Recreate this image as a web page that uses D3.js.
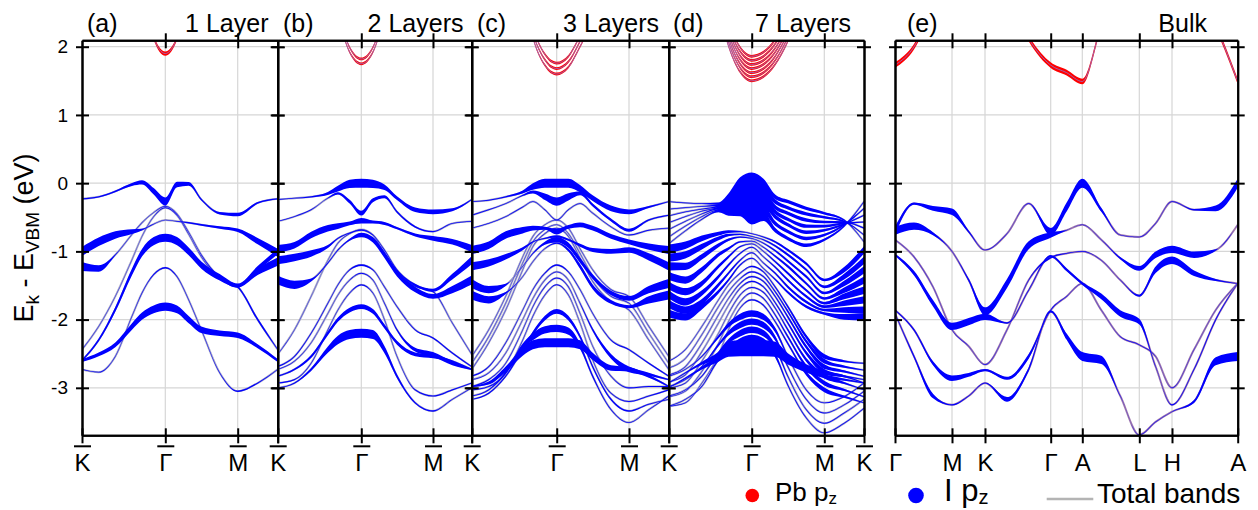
<!DOCTYPE html>
<html>
<head>
<meta charset="utf-8">
<script src="https://cdn.jsdelivr.net/npm/d3@7"></script>
<style>
  body { margin: 0; background: #fff; }
  text { font-family: "Liberation Sans", Arial, Helvetica, sans-serif; fill: #000; }
</style>
</head>
<body>
<svg id="chart" width="1258" height="510"></svg>
<script>
// k-path sample points (path length units) and high-symmetry points
var kSlab = [0, 0.267, 0.533, 0.8, 0.96, 1.147, 1.333, 1.52, 1.706, 1.908, 2.201, 2.488, 2.821, 3.155];
var slabNodes = [0, 1.333, 2.488, 3.155];
var slabLabels = ["K", "Γ", "M", "K"];
var kBulk = [0, 0.385, 0.770, 1.155, 1.491, 1.821, 2.268, 2.708, 3.155, 3.478, 3.795, 4.180, 4.565, 4.950, 5.283, 5.617, 6.064, 6.504, 6.950];
var bulkNodes = [0, 1.155, 1.821, 3.155, 3.795, 4.950, 5.617, 6.950];
var bulkLabels = ["Γ", "M", "K", "Γ", "A", "L", "H", "A"];
var energyTicks = [-3, -2, -1, 0, 1, 2];
var panelTags = ["(a)", "(b)", "(c)", "(d)", "(e)"];
var panelTitles = ["1 Layer", "2 Layers", "3 Layers", "7 Layers", "Bulk"];
var pbWeights = [0.45, 0.27, 0.27, 0.27, 0.6];

// (a) 1 layer: valence bands (eV) and I pz weights
var layer1Bands = [
  [-0.23, -0.20, -0.12, -0.02, 0.01, -0.12, -0.27, -0.02, -0.01, -0.24, -0.44, -0.46, -0.29, -0.23],
  [-1.0, -0.86, -0.76, -0.71, -0.68, -0.6, -0.54, -0.56, -0.58, -0.61, -0.65, -0.69, -0.85, -1.02],
  [-1.22, -1.25, -1.05, -0.75, -0.58, -0.43, -0.34, -0.45, -0.72, -1.05, -1.38, -1.51, -1.3, -1.15],
  [-2.6, -2.3, -1.85, -1.3, -1.02, -0.85, -0.8, -0.85, -1.0, -1.2, -1.38, -1.5, -1.25, -1.0],
  [-2.44, -2.1, -1.66, -1.12, -0.78, -0.49, -0.36, -0.47, -0.75, -1.08, -1.4, -1.52, -2.0, -2.44],
  [-2.73, -2.77, -2.54, -1.95, -1.61, -1.34, -1.24, -1.37, -1.71, -2.15, -2.78, -3.05, -2.93, -2.73],
  [-2.6, -2.51, -2.37, -2.1, -1.95, -1.85, -1.81, -1.85, -2.0, -2.15, -2.2, -2.23, -2.39, -2.6]
];
var layer1Weights = [
  [0.1, 0.1, 0.15, 0.3, 0.45, 0.7, 0.9, 0.6, 0.4, 0.2, 0.25, 0.35, 0.15, 0.1],
  [1.0, 0.95, 0.8, 0.5, 0.15, 0.05, 0.03, 0.05, 0.1, 0.15, 0.25, 0.35, 0.7, 0.9],
  [1.0, 0.7, 0.1, 0.03, 0.03, 0.03, 0.05, 0.05, 0.08, 0.1, 0.15, 0.3, 0.7, 0.9],
  [0.2, 0.3, 0.5, 0.75, 0.85, 0.9, 0.9, 0.9, 0.85, 0.8, 0.7, 0.4, 0.5, 0.6],
  [0.03, 0.03, 0.03, 0.03, 0.03, 0.03, 0.05, 0.05, 0.05, 0.05, 0.1, 0.2, 0.3, 0.1],
  [0.05, 0.05, 0.05, 0.08, 0.1, 0.12, 0.15, 0.12, 0.1, 0.1, 0.1, 0.1, 0.1, 0.05],
  [0.3, 0.4, 0.5, 0.7, 0.8, 0.85, 0.9, 0.85, 0.8, 0.7, 0.6, 0.6, 0.4, 0.3]
];
var layer1Pb = [
  [null, null, null, null, 2.8, 2.13, 1.9, 2.13, 2.8, null, null, null, null, null]
];

// (b) 2 layers
var layer2Bands = [
  [-0.24, -0.22, -0.2, -0.15, -0.08, -0.01, 0.0, -0.01, -0.06, -0.22, -0.39, -0.42, -0.39, -0.24],
  [-0.56, -0.49, -0.39, -0.22, -0.15, -0.27, -0.44, -0.25, -0.2, -0.42, -0.64, -0.71, -0.59, -0.56],
  [-0.96, -0.91, -0.76, -0.66, -0.63, -0.59, -0.55, -0.57, -0.59, -0.66, -0.76, -0.81, -0.86, -0.96],
  [-1.13, -1.09, -1.03, -0.93, -0.81, -0.73, -0.69, -0.76, -0.98, -1.27, -1.49, -1.57, -1.37, -1.13],
  [-1.42, -1.49, -1.42, -1.17, -0.98, -0.83, -0.76, -0.83, -1.05, -1.32, -1.56, -1.66, -1.56, -1.42],
  [-2.51, -2.15, -1.66, -1.13, -0.88, -0.74, -0.68, -0.76, -1.03, -1.3, -1.51, -1.59, -2.05, -2.51],
  [-2.69, -2.54, -2.2, -1.76, -1.49, -1.27, -1.2, -1.27, -1.52, -1.81, -2.15, -2.27, -2.49, -2.69],
  [-2.73, -2.61, -2.34, -1.91, -1.64, -1.42, -1.32, -1.42, -1.76, -2.15, -2.44, -2.51, -2.64, -2.73],
  [-2.93, -2.88, -2.64, -2.15, -1.86, -1.61, -1.49, -1.61, -2.0, -2.54, -3.03, -3.12, -3.03, -2.93],
  [-2.83, -2.73, -2.54, -2.2, -2.0, -1.86, -1.81, -1.88, -2.1, -2.34, -2.51, -2.54, -2.61, -2.73],
  [-3.0, -2.93, -2.73, -2.44, -2.3, -2.22, -2.2, -2.22, -2.44, -2.83, -3.22, -3.34, -3.17, -3.0]
];
var layer2Weights = [
  [0.05, 0.05, 0.1, 0.3, 0.6, 0.9, 1.0, 0.9, 0.6, 0.4, 0.5, 0.5, 0.3, 0.05],
  [0.05, 0.05, 0.05, 0.05, 0.2, 0.4, 0.5, 0.4, 0.3, 0.2, 0.15, 0.1, 0.05, 0.05],
  [0.8, 0.7, 0.7, 0.7, 0.6, 0.4, 0.6, 0.3, 0.3, 0.2, 0.3, 0.5, 0.6, 0.8],
  [0.9, 0.8, 0.7, 0.3, 0.1, 0.05, 0.05, 0.05, 0.1, 0.15, 0.2, 0.3, 0.6, 0.9],
  [1.0, 0.9, 0.3, 0.1, 0.1, 0.2, 0.5, 0.6, 0.7, 0.7, 0.6, 0.5, 0.8, 1.0],
  [0.03, 0.03, 0.03, 0.03, 0.03, 0.03, 0.03, 0.03, 0.05, 0.05, 0.08, 0.1, 0.05, 0.03],
  [0.1, 0.1, 0.1, 0.1, 0.1, 0.1, 0.15, 0.1, 0.1, 0.1, 0.1, 0.1, 0.1, 0.1],
  [0.03, 0.03, 0.03, 0.03, 0.03, 0.03, 0.05, 0.05, 0.1, 0.2, 0.4, 0.5, 0.4, 0.1],
  [0.08, 0.08, 0.08, 0.08, 0.08, 0.08, 0.1, 0.08, 0.08, 0.08, 0.08, 0.08, 0.08, 0.08],
  [0.1, 0.15, 0.3, 0.4, 0.45, 0.5, 0.5, 0.5, 0.45, 0.4, 0.4, 0.4, 0.2, 0.1],
  [0.05, 0.1, 0.3, 0.7, 0.95, 1.0, 1.0, 1.0, 0.8, 0.4, 0.15, 0.1, 0.05, 0.05]
];
var layer2Pb = [
  [null, null, null, null, 2.45, 1.92, 1.75, 1.92, 2.45, null, null, null, null, null],
  [null, null, null, null, 2.52, 1.99, 1.82, 1.99, 2.52, null, null, null, null, null]
];

// (c) 3 layers
var layer3Bands = [
  [-0.27, -0.25, -0.2, -0.13, -0.05, 0.0, 0.0, 0.0, -0.08, -0.22, -0.37, -0.42, -0.35, -0.27],
  [-0.47, -0.39, -0.3, -0.18, -0.13, -0.2, -0.27, -0.2, -0.15, -0.32, -0.54, -0.69, -0.54, -0.47],
  [-0.66, -0.59, -0.49, -0.35, -0.27, -0.39, -0.54, -0.39, -0.3, -0.44, -0.64, -0.76, -0.69, -0.66],
  [-0.98, -0.91, -0.76, -0.69, -0.66, -0.66, -0.71, -0.64, -0.61, -0.66, -0.78, -0.86, -0.93, -0.98],
  [-1.22, -1.17, -1.08, -0.96, -0.86, -0.81, -0.78, -0.83, -0.91, -0.98, -1.0, -0.98, -1.08, -1.22],
  [-1.47, -1.56, -1.49, -1.22, -1.03, -0.88, -0.83, -0.91, -1.13, -1.37, -1.61, -1.69, -1.56, -1.47],
  [-1.64, -1.71, -1.61, -1.37, -1.15, -0.96, -0.88, -0.98, -1.22, -1.52, -1.74, -1.81, -1.71, -1.64],
  [-2.54, -2.15, -1.66, -1.08, -0.78, -0.61, -0.54, -0.66, -0.96, -1.27, -1.56, -1.66, -2.1, -2.54],
  [-2.64, -2.25, -1.76, -1.17, -0.86, -0.68, -0.61, -0.74, -1.03, -1.37, -1.66, -1.76, -2.2, -2.64],
  [-2.73, -2.34, -1.86, -1.27, -0.93, -0.74, -0.66, -0.78, -1.1, -1.44, -1.74, -1.86, -2.3, -2.73],
  [-2.83, -2.69, -2.34, -1.86, -1.56, -1.32, -1.2, -1.3, -1.56, -1.91, -2.3, -2.44, -2.64, -2.83],
  [-2.88, -2.78, -2.49, -2.0, -1.69, -1.42, -1.3, -1.42, -1.76, -2.15, -2.54, -2.73, -2.8, -2.88],
  [-2.98, -2.88, -2.64, -2.15, -1.81, -1.52, -1.39, -1.52, -1.91, -2.39, -2.83, -3.0, -2.98, -2.98],
  [-3.03, -2.98, -2.78, -2.3, -1.95, -1.64, -1.49, -1.64, -2.05, -2.59, -3.08, -3.2, -3.12, -3.03],
  [-3.17, -3.08, -2.83, -2.44, -2.2, -1.98, -1.88, -1.98, -2.25, -2.69, -3.17, -3.34, -3.24, -3.17],
  [-3.12, -3.03, -2.78, -2.39, -2.25, -2.15, -2.13, -2.17, -2.39, -2.83, -3.32, -3.51, -3.32, -3.12],
  [-2.98, -2.93, -2.73, -2.47, -2.37, -2.34, -2.34, -2.34, -2.37, -2.54, -2.71, -2.73, -2.83, -2.98]
];
var layer3Weights = [
  [0.05, 0.05, 0.1, 0.3, 0.7, 1.0, 1.0, 1.0, 0.8, 0.6, 0.6, 0.5, 0.2, 0.05],
  [0.05, 0.05, 0.05, 0.1, 0.3, 0.7, 0.9, 0.8, 0.4, 0.3, 0.3, 0.3, 0.1, 0.05],
  [0.05, 0.05, 0.05, 0.05, 0.05, 0.05, 0.05, 0.05, 0.05, 0.05, 0.05, 0.05, 0.05, 0.05],
  [0.9, 0.8, 0.8, 0.7, 0.5, 0.3, 0.6, 0.4, 0.5, 0.5, 0.5, 0.5, 0.7, 0.9],
  [0.9, 0.8, 0.6, 0.3, 0.1, 0.1, 0.2, 0.2, 0.3, 0.4, 0.5, 0.6, 0.8, 0.9],
  [1.0, 0.8, 0.2, 0.05, 0.1, 0.3, 0.6, 0.6, 0.6, 0.5, 0.5, 0.5, 0.8, 1.0],
  [1.0, 0.8, 0.2, 0.05, 0.05, 0.05, 0.1, 0.3, 0.5, 0.5, 0.4, 0.3, 0.8, 1.0],
  [0.03, 0.03, 0.03, 0.03, 0.03, 0.03, 0.03, 0.03, 0.03, 0.03, 0.03, 0.03, 0.03, 0.03],
  [0.03, 0.03, 0.03, 0.03, 0.03, 0.03, 0.03, 0.03, 0.03, 0.03, 0.03, 0.03, 0.03, 0.03],
  [0.03, 0.03, 0.03, 0.03, 0.03, 0.03, 0.03, 0.03, 0.03, 0.03, 0.03, 0.03, 0.03, 0.03],
  [0.1, 0.1, 0.1, 0.1, 0.1, 0.1, 0.1, 0.1, 0.1, 0.1, 0.1, 0.1, 0.1, 0.1],
  [0.03, 0.03, 0.03, 0.03, 0.03, 0.03, 0.03, 0.03, 0.1, 0.3, 0.5, 0.6, 0.3, 0.1],
  [0.08, 0.08, 0.08, 0.08, 0.08, 0.08, 0.08, 0.08, 0.08, 0.08, 0.08, 0.08, 0.08, 0.08],
  [0.08, 0.08, 0.08, 0.08, 0.08, 0.08, 0.08, 0.08, 0.08, 0.08, 0.08, 0.08, 0.08, 0.08],
  [0.05, 0.1, 0.2, 0.3, 0.4, 0.5, 0.5, 0.5, 0.4, 0.3, 0.2, 0.1, 0.05, 0.05],
  [0.05, 0.1, 0.3, 0.6, 0.8, 0.8, 0.8, 0.8, 0.6, 0.3, 0.1, 0.05, 0.05, 0.05],
  [0.1, 0.3, 0.6, 0.9, 1.0, 1.0, 1.0, 1.0, 1.0, 0.8, 0.6, 0.5, 0.3, 0.1]
];
var layer3Pb = [
  [null, null, null, 2.8, 2.13, 1.73, 1.6, 1.7, 2.0, 2.4, null, null, null, null],
  [null, null, null, 2.85, 2.2, 1.81, 1.68, 1.78, 2.08, 2.48, null, null, null, null],
  [null, null, null, 2.9, 2.28, 1.89, 1.76, 1.86, 2.16, 2.56, null, null, null, null]
];

// (d) 7 layers: bands in groups, one weight profile per group
var layer7Top = [
  [-0.27, -0.29, -0.3, -0.3, -0.2, 0.02, 0.09, 0.0, -0.2, -0.27, -0.37, -0.44, -0.54, -0.86],
  [-0.38, -0.36, -0.34, -0.32, -0.24, -0.05, 0.0, -0.08, -0.27, -0.36, -0.45, -0.5, -0.56, -0.76],
  [-0.48, -0.42, -0.38, -0.34, -0.28, -0.13, -0.1, -0.15, -0.35, -0.44, -0.54, -0.57, -0.57, -0.66],
  [-0.58, -0.49, -0.41, -0.36, -0.32, -0.2, -0.2, -0.22, -0.42, -0.53, -0.63, -0.63, -0.59, -0.57],
  [-0.68, -0.56, -0.45, -0.37, -0.36, -0.27, -0.3, -0.3, -0.49, -0.61, -0.72, -0.69, -0.6, -0.47],
  [-0.79, -0.63, -0.49, -0.39, -0.39, -0.35, -0.42, -0.39, -0.59, -0.71, -0.81, -0.76, -0.61, -0.37],
  [-0.89, -0.7, -0.53, -0.41, -0.43, -0.42, -0.54, -0.49, -0.69, -0.81, -0.91, -0.83, -0.63, -0.27]
];
var layer7TopW = [0.03, 0.03, 0.05, 0.2, 0.7, 1.0, 1.0, 1.0, 0.5, 0.35, 0.35, 0.25, 0.15, 0.08];
var layer7Mid = [
  [-0.96, -0.91, -0.81, -0.74, -0.71, -0.71, -0.74, -0.79, -0.86, -0.98, -1.18, -1.42, -1.27, -0.98],
  [-1.09, -1.05, -0.93, -0.81, -0.76, -0.75, -0.78, -0.83, -0.92, -1.05, -1.27, -1.52, -1.37, -1.13],
  [-1.22, -1.22, -1.08, -0.91, -0.83, -0.79, -0.81, -0.88, -0.99, -1.14, -1.37, -1.61, -1.47, -1.27],
  [-1.36, -1.42, -1.27, -1.05, -0.96, -0.86, -0.85, -0.94, -1.07, -1.22, -1.47, -1.69, -1.57, -1.42],
  [-1.5, -1.59, -1.47, -1.22, -1.08, -0.93, -0.89, -1.0, -1.15, -1.32, -1.57, -1.76, -1.66, -1.57],
  [-1.63, -1.74, -1.61, -1.37, -1.2, -1.03, -0.94, -1.08, -1.23, -1.42, -1.66, -1.81, -1.76, -1.71],
  [-1.77, -1.86, -1.74, -1.49, -1.32, -1.13, -1.02, -1.17, -1.32, -1.52, -1.74, -1.86, -1.86, -1.86],
  [-1.91, -1.96, -1.81, -1.59, -1.42, -1.2, -1.1, -1.25, -1.41, -1.6, -1.81, -1.91, -1.96, -1.96]
];
var layer7MidW = [0.9, 0.8, 0.6, 0.4, 0.25, 0.1, 0.05, 0.05, 0.15, 0.25, 0.25, 0.25, 0.6, 0.8];
var layer7Low = [
  [-2.61, -2.44, -2.1, -1.71, -1.49, -1.32, -1.22, -1.3, -1.52, -1.81, -2.25, -2.54, -2.61, -2.64],
  [-2.71, -2.57, -2.22, -1.81, -1.59, -1.4, -1.3, -1.37, -1.59, -1.88, -2.32, -2.61, -2.69, -2.74],
  [-2.81, -2.69, -2.35, -1.93, -1.69, -1.47, -1.37, -1.44, -1.66, -1.96, -2.4, -2.69, -2.76, -2.83],
  [-2.91, -2.81, -2.47, -2.05, -1.79, -1.54, -1.44, -1.52, -1.75, -2.05, -2.49, -2.76, -2.83, -2.93],
  [-3.0, -2.93, -2.61, -2.2, -1.91, -1.64, -1.53, -1.6, -1.83, -2.15, -2.59, -2.83, -2.93, -3.03],
  [-3.13, -3.05, -2.76, -2.35, -2.03, -1.74, -1.61, -1.69, -1.93, -2.25, -2.69, -2.93, -3.03, -3.13],
  [-3.27, -3.22, -2.93, -2.52, -2.15, -1.83, -1.71, -1.79, -2.03, -2.35, -2.79, -3.03, -3.13, -3.22]
];
var layer7LowW = [0.03, 0.03, 0.03, 0.03, 0.03, 0.05, 0.08, 0.1, 0.15, 0.25, 0.4, 0.5, 0.2, 0.05];
var layer7Peak = [
  [-2.83, -2.73, -2.54, -2.25, -2.08, -1.96, -1.91, -1.96, -2.15, -2.54, -3.03, -3.22, -3.13, -2.93],
  [-2.98, -2.88, -2.69, -2.37, -2.2, -2.08, -2.03, -2.08, -2.27, -2.69, -3.17, -3.37, -3.25, -3.05],
  [-3.12, -3.03, -2.83, -2.49, -2.32, -2.2, -2.15, -2.2, -2.4, -2.83, -3.32, -3.52, -3.37, -3.17],
  [-3.27, -3.17, -2.98, -2.59, -2.44, -2.32, -2.27, -2.32, -2.52, -2.96, -3.44, -3.66, -3.52, -3.3]
];
var layer7PeakW = [0.05, 0.05, 0.1, 0.3, 0.5, 0.7, 0.7, 0.7, 0.5, 0.2, 0.1, 0.05, 0.05, 0.05];
var layer7Flat = [
  [-2.93, -2.78, -2.64, -2.52, -2.39, -2.37, -2.37, -2.37, -2.39, -2.54, -2.69, -2.78, -2.83, -2.88],
  [-3.0, -2.86, -2.71, -2.57, -2.48, -2.47, -2.47, -2.47, -2.48, -2.61, -2.74, -2.83, -2.88, -2.93]
];
var layer7FlatW = [0.05, 0.1, 0.3, 0.7, 1.0, 1.0, 1.0, 1.0, 1.0, 0.7, 0.5, 0.4, 0.2, 0.05];
var layer7Pb = [
  [null, null, null, 2.55, 2.01, 1.63, 1.5, 1.56, 1.74, 2.08, 2.82, null, null, null],
  [null, null, null, 2.61, 2.07, 1.69, 1.56, 1.62, 1.8, 2.14, 2.88, null, null, null],
  [null, null, null, 2.67, 2.13, 1.75, 1.62, 1.68, 1.86, 2.2, 2.94, null, null, null],
  [null, null, null, 2.73, 2.19, 1.81, 1.68, 1.74, 1.92, 2.26, 3.0, null, null, null],
  [null, null, null, 2.79, 2.25, 1.87, 1.74, 1.8, 1.98, 2.32, 3.06, null, null, null],
  [null, null, null, 2.85, 2.31, 1.93, 1.8, 1.86, 2.04, 2.38, 3.12, null, null, null],
  [null, null, null, 2.91, 2.37, 1.99, 1.86, 1.92, 2.1, 2.44, 3.18, null, null, null]
];

// (e) bulk
var bulkBands = [
  [-0.70, -0.30, -0.37, -0.42, -0.71, -0.98, -0.74, -0.30, -0.71, -0.35, 0.0, -0.39, -0.76, -0.79, -0.59, -0.27, -0.39, -0.37, 0.0],
  [-0.70, -0.63, -0.74, -1.0, -1.42, -1.88, -1.47, -0.91, -0.76, -0.69, -0.61, -0.83, -1.1, -1.25, -1.05, -0.97, -1.05, -0.98, -0.61],
  [-0.83, -1.08, -1.52, -2.15, -2.39, -2.66, -2.15, -1.42, -1.09, -1.03, -1.0, -1.13, -1.42, -1.65, -1.27, -1.13, -1.32, -1.42, -1.47],
  [-1.05, -1.32, -1.76, -2.1, -2.03, -1.96, -2.05, -1.57, -1.07, -1.27, -1.47, -1.66, -1.91, -2.03, -2.69, -3.25, -2.73, -2.0, -1.47],
  [-1.86, -2.15, -2.64, -2.86, -2.81, -2.74, -2.86, -2.54, -1.86, -1.66, -1.47, -1.86, -2.25, -2.37, -2.54, -3.0, -2.44, -1.86, -1.47],
  [-1.91, -2.54, -3.12, -3.25, -3.12, -2.93, -3.17, -2.73, -1.88, -2.25, -2.54, -2.59, -3.12, -3.69, -3.5, -3.35, -3.2, -2.61, -2.54]
];
var bulkWeights = [
  [0.9, 0.2, 0.5, 0.7, 0.2, 0.02, 0.02, 0.02, 0.8, 1.0, 1.0, 0.4, 0.02, 0.02, 0.02, 0.02, 0.1, 0.6, 1.0],
  [0.9, 0.8, 0.3, 0.02, 0.3, 0.9, 1.0, 0.9, 0.6, 0.02, 0.02, 0.02, 0.2, 0.5, 0.7, 0.8, 0.7, 0.1, 0.02],
  [0.02, 0.02, 0.02, 0.02, 0.02, 0.02, 0.02, 0.1, 0.15, 0.02, 0.02, 0.02, 0.02, 0.2, 0.7, 0.8, 0.6, 0.2, 0.02],
  [0.2, 0.5, 0.7, 0.8, 0.8, 0.7, 0.1, 0.1, 0.2, 0.3, 0.3, 0.6, 0.7, 0.6, 0.1, 0.1, 0.15, 0.2, 0.02],
  [0.1, 0.2, 0.4, 0.6, 0.4, 0.2, 0.3, 0.5, 0.1, 0.02, 0.02, 0.02, 0.02, 0.02, 0.02, 0.02, 0.02, 0.02, 0.02],
  [0.1, 0.3, 0.5, 0.1, 0.05, 0.05, 0.5, 0.4, 0.2, 0.7, 1.0, 0.9, 0.05, 0.02, 0.02, 0.02, 0.3, 0.9, 1.0]
];
var bulkPb = [
  [1.73, 2.0, 2.6, null, null, null, 2.8, 2.12, 1.73, 1.62, 1.49, 2.3, 2.9, null, null, null, 2.9, 2.3, 1.49]
];

// ---------------------------------------------------------------
var svg = d3.select("#chart");
var top0 = 40.3, bot0 = 435.3;
var y = d3.scaleLinear().domain([-3.696, 2.094]).range([bot0, top0]);
var wScale = d3.scaleLinear().domain([0, 1]).range([0.45, 9]);

var panels = [
  { k: kSlab, nodes: slabNodes, labels: slabLabels, px: [82, 165.3, 237.7, 277.7],
    groups: [{ bands: layer1Bands, weights: layer1Weights }], pb: layer1Pb, bars: true, first: true, titleEnd: 268.5 },
  { k: kSlab, nodes: slabNodes, labels: slabLabels, px: [277.7, 361.3, 433, 471.7],
    groups: [{ bands: layer2Bands, weights: layer2Weights }], pb: layer2Pb, bars: true, first: false, titleEnd: 463.5 },
  { k: kSlab, nodes: slabNodes, labels: slabLabels, px: [471.7, 556.7, 629, 668.7],
    groups: [{ bands: layer3Bands, weights: layer3Weights }], pb: layer3Pb, bars: true, first: false, titleEnd: 659 },
  { k: kSlab, nodes: slabNodes, labels: slabLabels, px: [668.7, 751.7, 824.3, 864],
    groups: [{ bands: layer7Low, weights: layer7LowW }, { bands: layer7Peak, weights: layer7PeakW },
             { bands: layer7Flat, weights: layer7FlatW }, { bands: layer7Mid, weights: layer7MidW },
             { bands: layer7Top, weights: layer7TopW }], pb: layer7Pb, bars: true, first: false, titleEnd: 851 },
  { k: kBulk, nodes: bulkNodes, labels: bulkLabels, px: [895, 952, 985, 1050.7, 1082.3, 1139.3, 1172, 1237.7],
    groups: [{ bands: bulkBands, weights: bulkWeights }], pb: bulkPb, bars: false, first: true, titleEnd: 1207 }
];
var tagX = [87, 283, 477, 673, 907];

function styleAxis(sel) {
  sel.select(".domain").attr("stroke", "#000").attr("stroke-width", 2);
  sel.selectAll(".tick line").attr("stroke", "#000").attr("stroke-width", 2);
}

panels.forEach(function(p, i) {
  var x = d3.scaleLinear().domain(p.nodes).range(p.px);
  var x0 = p.px[0], x1 = p.px[p.px.length - 1];
  var g = svg.append("g");

  svg.append("clipPath").attr("id", "clip" + i)
    .append("rect").attr("x", x0).attr("y", top0).attr("width", x1 - x0).attr("height", bot0 - top0);

  // grid
  g.selectAll(".hgrid").data(energyTicks).join("line")
    .attr("x1", x0).attr("x2", x1).attr("y1", function(d) { return y(d); }).attr("y2", function(d) { return y(d); })
    .attr("stroke", "#d6d6d6").attr("stroke-width", 1.2);
  g.selectAll(".vgrid").data(p.nodes.slice(1, -1)).join("line")
    .attr("x1", function(d) { return x(d); }).attr("x2", function(d) { return x(d); })
    .attr("y1", top0).attr("y2", bot0)
    .attr("stroke", "#d6d6d6").attr("stroke-width", 1.2);

  var plot = g.append("g").attr("clip-path", "url(#clip" + i + ")");

  var series = [];
  p.groups.forEach(function(gr) {
    gr.bands.forEach(function(b, j) {
      var wt = Array.isArray(gr.weights[0]) ? gr.weights[j] : gr.weights;
      series.push(b.map(function(e, n) { return { k: p.k[n], e: e, w: wt[n] }; }));
    });
  });
  var pbSeries = p.pb.map(function(b) {
    return b.map(function(e, n) { return { k: p.k[n], e: e, w: pbWeights[i] }; });
  });

  var line = d3.line().defined(function(d) { return d.e !== null; })
    .x(function(d) { return x(d.k); }).y(function(d) { return y(d.e); })
    .curve(d3.curveMonotoneX);
  var area = d3.area().defined(function(d) { return d.e !== null; })
    .x(function(d) { return x(d.k); })
    .y0(function(d) { return y(d.e) - wScale(d.w) / 2; })
    .y1(function(d) { return y(d.e) + wScale(d.w) / 2; })
    .curve(d3.curveMonotoneX);

  var lineColor = i === 4 ? "#a07aae" : "#a9a9c6";

  // total bands
  plot.selectAll(".tot").data(series).join("path")
    .attr("d", line).attr("fill", "none").attr("stroke", lineColor).attr("stroke-width", 2);
  // I pz weight
  plot.selectAll(".ipz").data(series).join("path")
    .attr("d", area).attr("fill", "#0000ff").attr("stroke", "none");
  // Pb pz weight (conduction)
  plot.selectAll(".pbpz").data(pbSeries).join("path")
    .attr("d", area).attr("fill", "#ff0000").attr("stroke", "none");
  plot.selectAll(".pbline").data(pbSeries).join("path")
    .attr("d", line).attr("fill", "none").attr("stroke", "#8a7ad8").attr("stroke-width", 0.8);

  // frame and ticks (crossing ticks: out + in)
  var aL = g.append("g").attr("transform", "translate(" + x0 + ",0)")
    .call(d3.axisLeft(y).tickValues(energyTicks).tickSize(6).tickSizeOuter(0).tickPadding(8)
      .tickFormat(i === 0 ? function(d) { return String(d); } : function() { return ""; }));
  styleAxis(aL);
  aL.selectAll("text").attr("font-size", 19).attr("font-family", "Liberation Sans, Arial, sans-serif");
  styleAxis(g.append("g").attr("transform", "translate(" + x0 + ",0)")
    .call(d3.axisRight(y).tickValues(energyTicks).tickSize(7).tickSizeOuter(0).tickFormat(function() { return ""; })));
  styleAxis(g.append("g").attr("transform", "translate(" + x1 + ",0)")
    .call(d3.axisLeft(y).tickValues(energyTicks).tickSize(7).tickSizeOuter(0).tickFormat(function() { return ""; })));
  styleAxis(g.append("g").attr("transform", "translate(" + x1 + ",0)")
    .call(d3.axisRight(y).tickValues(energyTicks).tickSize(7).tickSizeOuter(0).tickFormat(function() { return ""; })));

  var inner = p.nodes.slice(1, -1);
  styleAxis(g.append("g").attr("transform", "translate(0," + top0 + ")")
    .call(d3.axisTop(x).tickValues(inner).tickSize(7).tickSizeOuter(0).tickFormat(function() { return ""; })));
  styleAxis(g.append("g").attr("transform", "translate(0," + top0 + ")")
    .call(d3.axisBottom(x).tickValues(inner).tickSize(8).tickSizeOuter(0).tickFormat(function() { return ""; })));

  styleAxis(g.append("g").attr("transform", "translate(0," + bot0 + ")")
    .call(d3.axisTop(x).tickValues(p.nodes).tickSize(7).tickSizeOuter(0).tickFormat(function() { return ""; })));
  var aB = g.append("g").attr("transform", "translate(0," + bot0 + ")")
    .call(d3.axisBottom(x).tickValues(p.nodes).tickSize(8).tickSizeOuter(0)
      .tickFormat(function(d, n) { return (n === 0 && !p.first) ? "" : p.labels[n]; }));
  styleAxis(aB);
  aB.selectAll("text").attr("y", 18.5).attr("dy", "0.71em")
    .attr("font-size", 24).attr("font-family", "Liberation Sans, Arial, sans-serif");
  if (p.bars) {
    aB.selectAll(".tick").filter(function(d, n) { return !(n === 0 && !p.first); })
      .append("line").attr("x1", -8.5).attr("x2", 8.5).attr("y1", 11).attr("y2", 11)
      .attr("stroke", "#000").attr("stroke-width", 2);
  }

  // titles
  svg.append("text").attr("x", tagX[i]).attr("y", 32).attr("font-size", 25).text(panelTags[i]);
  svg.append("text").attr("x", p.titleEnd).attr("y", 32).attr("font-size", 25)
    .attr("text-anchor", "end").text(panelTitles[i]);
});

// y-axis label
var yl = svg.append("text").attr("transform", "translate(33,238) rotate(-90)")
  .attr("text-anchor", "middle").attr("font-size", 27);
yl.append("tspan").text("E");
yl.append("tspan").attr("font-size", 19).attr("dy", 6).text("k");
yl.append("tspan").attr("dy", -6).text(" - E");
yl.append("tspan").attr("font-size", 19).attr("dy", 6).text("VBM");
yl.append("tspan").attr("dy", -6).text(" (eV)");

// legend
var leg = svg.append("g");
leg.append("circle").attr("cx", 752.3).attr("cy", 495.5).attr("r", 6.8).attr("fill", "#ff0000");
var t1 = leg.append("text").attr("x", 775).attr("y", 501).attr("font-size", 26);
t1.append("tspan").text("Pb p");
t1.append("tspan").attr("font-size", 17).attr("dy", 3).text("z");
leg.append("circle").attr("cx", 916).attr("cy", 495.5).attr("r", 7.8).attr("fill", "#0000ff");
var t2 = leg.append("text").attr("x", 944).attr("y", 501).attr("font-size", 31);
t2.append("tspan").text("I p");
t2.append("tspan").attr("font-size", 20).attr("dy", 3).text("z");
leg.append("line").attr("x1", 1046.7).attr("x2", 1093.3).attr("y1", 499).attr("y2", 499)
  .attr("stroke", "#b4b4b4").attr("stroke-width", 2.5);
leg.append("text").attr("x", 1097).attr("y", 503).attr("font-size", 28).text("Total bands");
</script>
</body>
</html>
